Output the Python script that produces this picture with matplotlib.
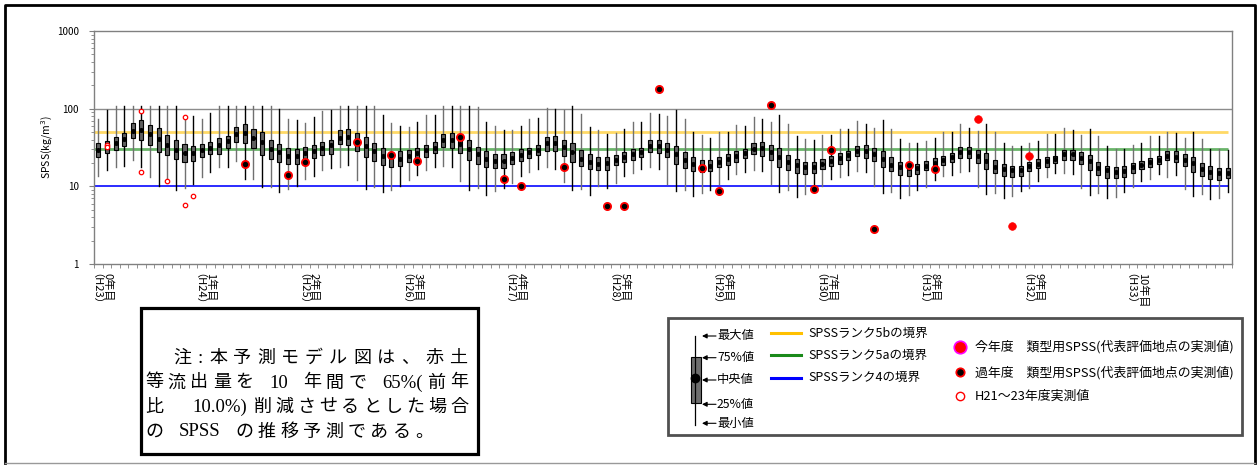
import matplotlib
matplotlib.use("Agg")
import matplotlib.pyplot as plt
from matplotlib.patches import Rectangle
from matplotlib.ticker import LogLocator, NullFormatter
from matplotlib.transforms import ScaledTranslation

plt.rcParams["font.family"] = ["Noto Sans CJK JP", "DejaVu Sans"]

# monthly box statistics, H23 .. H33 (132 months)
spss_max = [74.5, 97, 109, 109, 109, 109, 109, 109, 109, 109, 77, 80,
            74, 89, 109, 109, 109, 109, 109, 109, 109, 100, 73, 71,
            65.5, 78, 94, 95, 109, 109, 109, 109, 109, 82, 65.6, 60,
            58, 67.5, 82, 82, 109, 109, 109, 109, 105, 67.5, 60, 53,
            53, 60.5, 73, 76, 102, 100, 95, 109, 86, 58, 53, 47,
            49, 55.5, 67.5, 67.5, 89, 85, 80, 97, 74.5, 50, 45.5, 42.5,
            49.5, 49.5, 61.5, 60, 78, 73, 67.5, 82, 64, 45, 40.3, 39.4,
            45.5, 45.5, 55.5, 55.5, 69.5, 64, 57, 71, 55.5, 40.3, 35.7, 35.7,
            38.6, 42.2, 50, 50, 63, 57, 51.5, 63, 50, 36.5, 33, 33,
            36.5, 38.6, 47, 47, 57, 53, 45.5, 55.5, 44.5, 33, 30, 30,
            33.7, 35.7, 44.5, 45, 50, 48, 42.2, 49.5, 40.8, 30, 30, 29.4]
spss_q3 = [36.5, 38, 43.5, 48, 66, 72, 62, 56.5, 45.5, 40, 35, 33,
           35, 37, 41.5, 45, 58, 64, 55.5, 50, 40, 34.6, 31.5, 30.3,
           32.4, 34, 37, 40, 53, 55.5, 49, 43.5, 36.5, 31.5, 28, 28.5,
           29.4, 31.5, 34, 36.8, 47, 48.5, 45, 39.4, 32.4, 28.9, 26, 26,
           27.5, 30, 31.5, 34, 42.7, 44.5, 39.4, 35.7, 29.4, 25.9, 24, 24,
           25, 27.5, 30, 31.5, 39.4, 40, 36.5, 33.4, 27.7, 23.7, 21.9, 21.9,
           23.7, 25.9, 28.5, 30, 36.5, 37.2, 33.7, 30.9, 25.4, 22.5, 20.8, 20.8,
           22.5, 24.6, 26.6, 28.5, 33, 34, 30.9, 28.5, 23.7, 20.8, 19.9, 19.5,
           21.5, 23, 24.9, 27.2, 31.9, 31.9, 29.4, 26.6, 21.9, 19.5, 18.5, 18.5,
           20.8, 22.3, 23.7, 24.9, 29.4, 29.4, 27.5, 25.4, 20.8, 18.5, 17.7, 18.3,
           19.9, 21.5, 23, 24.6, 28.5, 28.5, 26, 23.7, 19.9, 18.3, 17.2, 17.2]
spss_med = [29.7, 32, 36, 40.3, 51, 53, 46.5, 40.3, 34, 29.4, 26.6, 26.6,
            29, 31, 33.7, 38, 47, 48.8, 42.5, 37, 30.3, 27.5, 24.4, 24.4,
            26.6, 28.7, 31, 33.7, 42.5, 43.5, 37, 33, 28.7, 24.6, 24, 22.5,
            24.4, 26.6, 29, 31.5, 39.4, 39, 35.5, 30.3, 26, 22.3, 21.2, 21.2,
            23, 25.4, 27.7, 29.4, 35.7, 35.7, 32.4, 28, 22.8, 20.6, 19.5, 19.7,
            21.9, 23.7, 26, 28, 33.4, 33.4, 29.4, 26, 21.9, 19.5, 17.8, 18.5,
            20.5, 22.3, 24.4, 26.6, 30.5, 31, 28, 24.2, 20.3, 18.7, 17.5, 17.5,
            19.5, 21.5, 23, 25.4, 28.7, 28.5, 26, 22.5, 18.9, 17.5, 17.0, 17.2,
            18.5, 19.9, 21.9, 23.7, 27.5, 28, 24.6, 21.5, 17.7, 16.6, 16.0, 16.0,
            18.3, 19.5, 21.2, 22.5, 26, 26, 23.4, 21.2, 17.2, 16.0, 15.3, 15.8,
            17.5, 18.9, 20.5, 21.9, 24.9, 24.2, 21.9, 19.9, 16.6, 15.3, 14.8, 14.8]
spss_q1 = [24.2, 26.6, 29.4, 33, 41.5, 40, 34, 28, 25.2, 22.3, 20.5, 21.2,
           23.7, 25.9, 25.9, 30.9, 37.5, 36.5, 30.9, 25.4, 22.8, 20.3, 19.3, 19.5,
           21.3, 23.4, 25.6, 26, 35, 33.7, 28.7, 23.7, 21.3, 18.9, 18, 18.5,
           20.6, 22.5, 24.2, 26.8, 32.4, 30.9, 26.6, 21.7, 19.5, 18, 17.2, 17.2,
           19.5, 21.3, 23, 25.4, 28.9, 28.9, 24.6, 20.6, 18.3, 16.6, 16.0, 16,
           18.9, 20.3, 21.9, 24.2, 28, 27, 23.7, 19.5, 17.2, 15.8, 15.1, 15.8,
           17.7, 18.9, 20.6, 23.2, 25.9, 24.9, 21.9, 18, 16.0, 14.8, 14.4, 14.8,
           16.8, 18.5, 19.5, 21.9, 24.9, 23.4, 21.2, 17.5, 15.6, 13.8, 13.7, 14.4,
           16.3, 18, 18.9, 20.6, 23.4, 23, 19.9, 16.6, 14.8, 13.7, 13.2, 13.4,
           15.8, 17.2, 18, 19.9, 21.9, 21.9, 19.3, 16.3, 13.8, 12.8, 12.8, 13.2,
           14.8, 16.6, 17.7, 19.5, 21.7, 20.3, 18.3, 15.1, 13.4, 12.4, 12.2, 12.8]
spss_min = [13.4, 16, 18, 18.5, 21.9, 17.7, 13.1, 10.2, 11.5, 8.9, 9.6, 10.7,
            13.1, 15.3, 17.7, 18, 20.9, 12.6, 12.4, 9.8, 9.8, 8.5, 9.3, 10.2,
            12.4, 13.4, 16.3, 17.2, 18, 18.9, 12.2, 9.3, 9.8, 8.4, 8.9, 10.2,
            11.9, 14.1, 16.3, 17.7, 18.5, 17.5, 11.6, 9.1, 9.5, 7.8, 8.6, 9.5,
            11.2, 13.7, 15.1, 16.6, 17.7, 16.6, 11.4, 8.9, 9.3, 7.7, 10, 9.5,
            11.0, 13.4, 14.8, 16.6, 18, 16.6, 10.8, 8.6, 9.1, 7.45, 8.2, 9.1,
            10.8, 12.4, 14.4, 15.1, 16.3, 15.6, 10.7, 8.4, 8.9, 7.3, 8.0, 9.5,
            10.2, 12.4, 13.0, 14.1, 15.6, 15.1, 10, 8.2, 8.5, 7.1, 7.8, 8.9,
            9.8, 12.2, 13.4, 14.1, 15.1, 15.6, 9.8, 8.0, 8.2, 7.0, 7.45, 8.6,
            9.5, 11.6, 13.1, 14.8, 14.8, 14.4, 9.5, 7.7, 8.2, 7.0, 7.3, 8.5,
            9.8, 11.6, 12.5, 14.4, 13.1, 13.8, 9.3, 7.45, 8.0, 6.8, 7.1, 8.4]

# 過年度 representative values
past_x = [17, 22, 24, 30, 34, 37, 42, 47, 49, 54, 59, 61, 65, 70, 72, 78,
          83, 85, 90, 94, 97]
past_y = [19.5, 13.8, 20.3, 37.2, 25.4, 21.4, 42.7, 12.6, 10.2, 17.7, 5.56,
          5.56, 180, 17.2, 8.6, 110, 9.3, 29.1, 2.8, 18.9, 16.6]
# 今年度 representative values
this_x = [102, 106, 108]
this_y = [74.5, 3.1, 24.6]
# H21-23 measured values
h21_x = [1, 1, 5, 5, 8, 10, 10, 11]
h21_y = [34, 32, 94, 15.1, 11.8, 78, 5.8, 7.45]

year_pos = [0, 12, 24, 36, 48, 60, 72, 84, 96, 108, 120]
year_top = [f"{k}年目" for k in range(11)]
year_era = [f"（H{23 + k}）" for k in range(11)]

rank_levels = [50, 30, 10]
rank_labels = ["SPSSランク5bの境界", "SPSSランク5aの境界", "SPSSランク4の境界"]
box_key_labels = ["最大値", "75%値", "中央値", "25%値", "最小値"]
marker_labels = ["今年度　類型用SPSS(代表評価地点の実測値)",
                 "過年度　類型用SPSS(代表評価地点の実測値)",
                 "H21～23年度実測値"]
note_lines = ["注:本予測モデル図は、赤土",
              "等流出量を 10 年間で 65%(前年",
              "比  10.0%)削減させるとした場合",
              "の SPSS の推移予測である。"]

W, H = 1259, 466
fig = plt.figure(figsize=(W / 100, H / 100), dpi=100)
ax = fig.add_axes([94 / W, (H - 264) / H, 1138 / W, 233 / H])

n = len(spss_med)
xs = list(range(n))
stats = [dict(whislo=spss_min[i], q1=spss_q1[i], med=spss_med[i],
              q3=spss_q3[i], whishi=spss_max[i]) for i in xs]
art = ax.bxp(stats, positions=xs, widths=0.47, patch_artist=True,
             showcaps=False, showfliers=False,
             boxprops=dict(facecolor="#606060", edgecolor="black", linewidth=0.8, zorder=3),
             whiskerprops=dict(linewidth=1.0, zorder=2.5),
             medianprops=dict(linewidth=0))
for i, wl in enumerate(art["whiskers"]):
    wl.set_color("#707070" if (i // 2) % 2 == 0 else "black")
ax.plot(xs, spss_med, "o", color="black", ms=2.6, zorder=4)

rank_colors = ["#ffd966", "#6ab46a", "#1a1aff"]
rank_widths = [2.0, 2.0, 1.3]
for lev, col, lw in zip(rank_levels, rank_colors, rank_widths):
    ax.hlines(lev, -0.5, n - 1, colors=col, lw=lw, zorder=1.5)
ax.axhline(100, color="#8c8c8c", lw=1, zorder=1)

ax.plot(h21_x, h21_y, "o", ls="none", ms=3.2, mfc="white", mec="red", mew=0.9, zorder=5)
ax.plot(past_x, past_y, "o", ls="none", ms=5.2, mfc="black", mec="red", mew=1.3, zorder=6)
ax.plot(this_x, this_y, "o", ls="none", ms=5.5, mfc="red", mec="red", mew=0.5, zorder=6)

ax.set_yscale("log")
ax.set_ylim(1, 1000)
ax.set_xlim(-0.5, n - 0.5)
ax.set_yticks([1, 10, 100, 1000])
ax.set_yticklabels(["1", "10", "100", "1000"])
ax.yaxis.set_minor_locator(LogLocator(base=10, subs=range(2, 10)))
ax.yaxis.set_minor_formatter(NullFormatter())
ax.tick_params(axis="y", which="major", length=3.3, width=0.8, color="#808080",
               labelsize=7, pad=7.5)
ax.tick_params(axis="y", which="minor", length=2, width=0.6, color="#808080")

ax.set_xticks([])
ax.set_xticks([i - 0.5 for i in range(n + 1)], minor=True)
ax.tick_params(axis="x", which="minor", length=3, width=0.6, color="#808080")

# two-column vertical year labels under the axis
xtrans = ax.get_xaxis_transform()
for pos, top, era in zip(year_pos, year_top, year_era):
    ax.text(pos, -0.037, top, rotation=-90, ha="center", va="top", fontsize=8,
            transform=xtrans + ScaledTranslation(0.09, 0, fig.dpi_scale_trans))
    ax.text(pos, -0.037, era, rotation=-90, ha="center", va="top", fontsize=8,
            transform=xtrans + ScaledTranslation(-0.08, 0, fig.dpi_scale_trans))

for sp in ax.spines.values():
    sp.set_color("#808080")
    sp.set_linewidth(1)

ax.set_ylabel("SPSS(kg/m$^3$)", fontsize=7.5)
ax.yaxis.set_label_coords(-0.034, 0.5)

# overlay in pixel coordinates for frame, note and key
ov = fig.add_axes([0, 0, 1, 1], zorder=-1)
ov.set_xlim(0, W)
ov.set_ylim(H, 0)
ov.axis("off")
ov.patch.set_visible(False)

ov.plot([5, 5, 1255, 1255], [463, 5, 5, 463], color="black", lw=2)
ov.plot([5, 1255], [463, 463], color="#999999", lw=1)

# note box, text spread over a character grid
ov.add_patch(Rectangle((141, 308), 337, 146, fill=False, ec="black", lw=2.3))
starts = [170, 143, 143, 143]
ends = [470, 470, 470, None]
baselines = [363, 387.5, 412, 436.5]
for line, x0, x1, yb in zip(note_lines, starts, ends, baselines):
    tokens = []
    run = ""
    for ch in line + "\n":
        if ch not in " \n" and ord(ch) < 0x2000:
            run += ch
            continue
        if run:
            tokens.append((run, 0.5 * len(run)))
            run = ""
        if ch == " ":
            tokens.append(("", 0.5))
        elif ch != "\n":
            tokens.append((ch, 1.0))
    total = sum(u for _, u in tokens)
    pitch = (x1 - x0) / total if x1 else 22.5
    x = x0
    for tok, u in tokens:
        if tok and u == 1.0 and ord(tok[0]) >= 0x2000:
            ov.text(x + u * pitch / 2, yb, tok, ha="center", va="baseline", fontsize=13)
        elif tok:
            ov.text(x + u * pitch / 2, yb, tok, ha="center", va="baseline", fontsize=13.5,
                    family="Liberation Serif")
        x += u * pitch

# key box
ov.add_patch(Rectangle((668, 318), 574, 117, fill=False, ec="#505050", lw=2))
ov.plot([695.5, 695.5], [336, 425], color="black", lw=0.9)
ov.add_patch(Rectangle((690.6, 356.7), 10.7, 46.6, fc="#6e6e6e", ec="black", lw=0.8))
ov.plot([695.5], [378.3], "o", color="black", ms=6)
key_y = [336, 357.7, 380, 404.3, 423.3]
for yk, txt in zip(key_y, box_key_labels):
    ov.annotate("", xy=(702, yk), xytext=(716, yk),
                arrowprops=dict(arrowstyle="-|>", color="black", lw=0.8,
                                mutation_scale=7, shrinkA=0, shrinkB=0))
    ov.text(717, yk, txt, ha="left", va="center", fontsize=8.8)

legend_colors = ["#ffc000", "#1a8a1a", "#0000ff"]
line_y = [333.3, 355, 377.7]
for yl, col, txt in zip(line_y, legend_colors, rank_labels):
    ov.plot([771, 801], [yl, yl], color=col, lw=2.2)
    ov.text(808, yl, txt, ha="left", va="center", fontsize=9)

mark_y = [346.7, 372.3, 396]
ov.plot([960], [mark_y[0]], "o", ms=9, mfc="red", mec="#ff00ff", mew=1.2)
ov.plot([960], [mark_y[1]], "o", ms=6, mfc="black", mec="red", mew=1.3)
ov.plot([960], [mark_y[2]], "o", ms=6, mfc="white", mec="red", mew=1)
for ym, txt in zip(mark_y, marker_labels):
    ov.text(975, ym, txt, ha="left", va="center", fontsize=9.3)

fig.savefig("out.png", dpi=100)
